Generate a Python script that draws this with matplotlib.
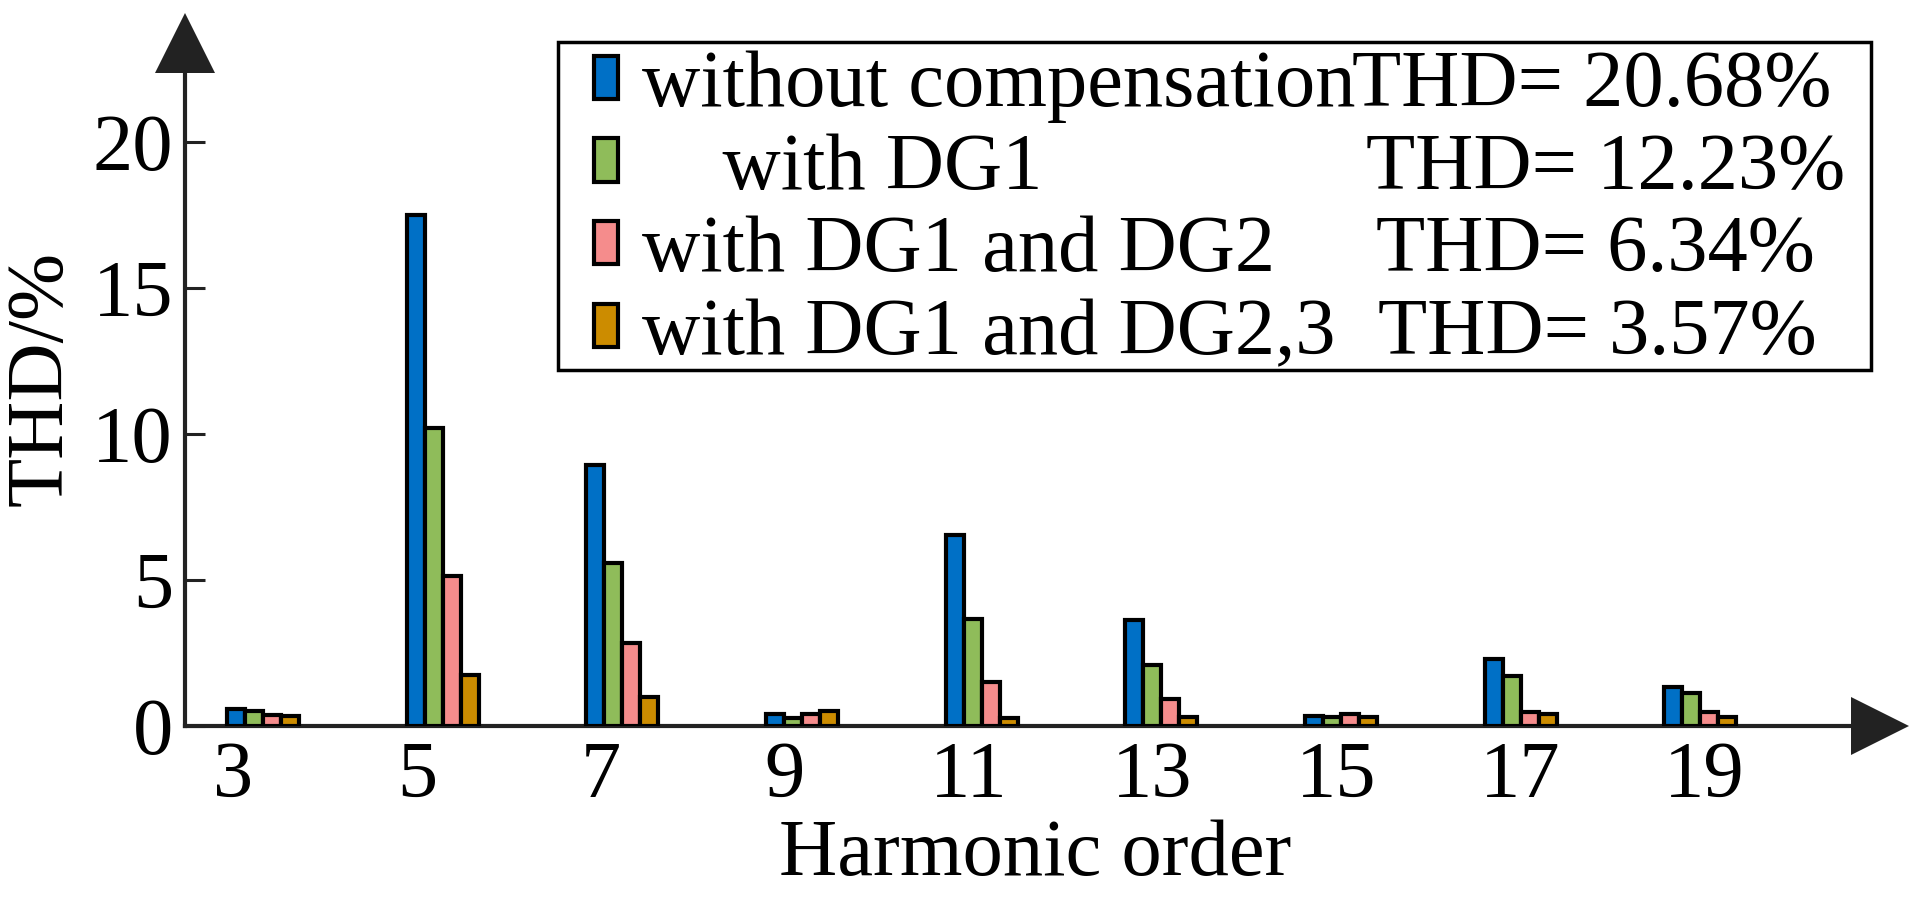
"""
Harmonic spectrum bar chart (THD per harmonic order, four compensation cases).
"""

import matplotlib
matplotlib.use("Agg")
import matplotlib.pyplot as plt
from matplotlib.patches import Rectangle
import numpy as np

W, H, DPI = 1931, 922, 100

harmonics = [3, 5, 7, 9, 11, 13, 15, 17, 19]
without_comp = [0.59, 17.5, 8.95, 0.40, 6.55, 3.62, 0.34, 2.28, 1.34]
with_dg1 = [0.51, 10.2, 5.58, 0.29, 3.68, 2.10, 0.31, 1.72, 1.13]
with_dg12 = [0.37, 5.12, 2.85, 0.40, 1.50, 0.94, 0.40, 0.47, 0.48]
with_dg123 = [0.34, 1.76, 0.98, 0.51, 0.29, 0.31, 0.32, 0.40, 0.32]

series_names = ["without compensation", "    with DG1", "with DG1 and DG2", "with DG1 and DG2,3"]
thd_labels = ["THD= 20.68%", "THD= 12.23%", "THD= 6.34%", "THD= 3.57%"]
colors = ["#0070C6", "#8FBC5A", "#F58C8C", "#CC8C00"]

plt.rcParams["font.family"] = ["Liberation Serif", "DejaVu Serif"]

fig = plt.figure(figsize=(W / DPI, H / DPI), dpi=DPI)
fig.patch.set_facecolor("white")

# axes box: origin at (185, 726) px, arrow-head centres at the far ends
ax = fig.add_axes([185 / W, (H - 726) / H, (1880 - 185) / W, (726 - 43.5) / H])

x = np.array(harmonics, dtype=float)
bar_w = 0.2
offsets = [-0.3, -0.1, 0.1, 0.3]
all_series = [without_comp, with_dg1, with_dg12, with_dg123]

handles = []
for vals, off, col in zip(all_series, offsets, colors):
    b = ax.bar(x + off, vals, width=bar_w, color=col, edgecolor="black",
               linewidth=3, zorder=3)
    handles.append(b)

ax.set_xlim(2.131, 21.0)
ax.set_ylim(0, 23.37)

# tick labels sit on their own even spacing in the original figure
ax.set_xticks(np.linspace(2.67, 19.04, len(harmonics)))
ax.set_xticklabels([str(h) for h in harmonics])
ax.set_yticks([0, 5, 10, 15, 20])

ax.tick_params(axis="x", length=0, pad=11, labelsize=58)
ax.tick_params(axis="y", direction="in", length=14.4, width=2.2, pad=8.6,
               labelsize=58, color="#222222")

for side in ("top", "right"):
    ax.spines[side].set_visible(False)
for side in ("left", "bottom"):
    ax.spines[side].set_linewidth(3)
    ax.spines[side].set_color("#222222")

# arrow heads at the ends of both axes
ax.plot([0], [1], marker="^", ms=43, color="#222222", mew=0,
        transform=ax.transAxes, clip_on=False, zorder=5)
ax.plot([1], [0], marker=">", ms=42, color="#222222", mew=0,
        transform=ax.transAxes, clip_on=False, zorder=5)

ax.set_xlabel("Harmonic order", fontsize=58, va="center")
ax.xaxis.set_label_coords((1035 - 185) / (1880 - 185), (726 - 855) / (726 - 43.5))
ax.set_ylabel("THD/%", fontsize=58, va="center")
ax.yaxis.set_label_coords((42 - 185) / (1880 - 185), (726 - 378) / (726 - 43.5))

leg = ax.legend(handles, series_names, loc="upper left",
                bbox_to_anchor=(594 / W, 1 - 50 / H), bbox_transform=fig.transFigure,
                frameon=False, borderpad=0, borderaxespad=0, fontsize=58,
                handlelength=0.3, handleheight=0.45, handletextpad=0.3,
                labelspacing=0.12)

fig.add_artist(Rectangle((558 / W, 1 - 370 / H), (1871 - 558) / W, (370 - 42) / H,
                         transform=fig.transFigure, fill=False, lw=2.5,
                         ec="black", zorder=6))

# THD values in a second column, lined up with the legend rows
fig.canvas.draw()
thd_x = [1352, 1366, 1376, 1378]
for t, s, px in zip(leg.get_texts(), thd_labels, thd_x):
    bb = t.get_window_extent()
    fig.text(px / W, bb.y0 / H, s, fontsize=58, va="bottom", ha="left")

fig.savefig("out.png", dpi=DPI, facecolor="white")
